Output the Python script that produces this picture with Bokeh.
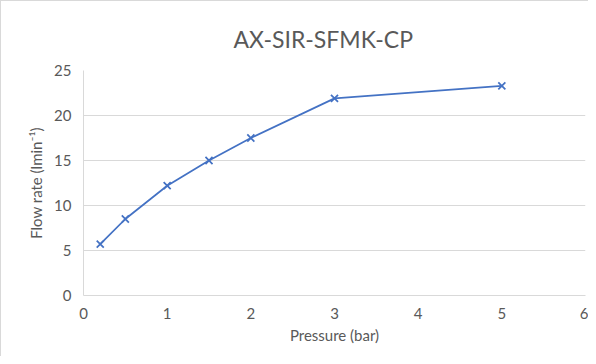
from bokeh.plotting import figure
from bokeh.models import FixedTicker, ColumnDataSource
from bokeh.embed import file_html
from bokeh.resources import INLINE

pressure = [0.2, 0.5, 1.0, 1.5, 2.0, 3.0, 5.0]
flow_rate = [5.7, 8.5, 12.2, 15.0, 17.5, 21.9, 23.3]
x_ticks = [0, 1, 2, 3, 4, 5, 6]
y_ticks = [0, 5, 10, 15, 20, 25]

FONT = "Lato"
GRAY = "#595959"
GRID = "#d9d9d9"
BLUE = "#4472C4"

src = ColumnDataSource(dict(x=pressure, y=flow_rate))

p = figure(width=588, height=356, output_backend="svg", toolbar_location=None,
           x_range=(0, 6), y_range=(0, 25),
           min_border_left=83, min_border_right=3, min_border_top=70, min_border_bottom=61,
           title="AX-SIR-SFMK-CP")
p.styles = {"box-shadow": "inset 1px 1px 0 0 #d9d9d9", "background-color": "white"}
p.border_fill_color = None

p.title.align = "left"
p.title.offset = 150
p.title.text_font = FONT
p.title.text_font_size = "23px"
p.title.text_font_style = "normal"
p.title.text_color = GRAY
p.title.standoff = 36

p.line("x", "y", source=src, line_color=BLUE, line_width=1.75)
p.scatter("x", "y", source=src, marker="x", size=10, line_color=BLUE, line_width=1.75)

p.outline_line_color = None
p.xgrid.grid_line_color = None
p.ygrid.grid_line_color = GRID
p.ygrid.grid_line_width = 1

for ax in (p.xaxis[0], p.yaxis[0]):
    ax.axis_line_color = GRID
    ax.major_tick_line_color = None
    ax.minor_tick_line_color = None
    ax.major_tick_out = 0
    ax.major_tick_in = 0
    ax.major_label_text_font = FONT
    ax.major_label_text_font_size = "15px"
    ax.major_label_text_color = GRAY
    ax.axis_label_text_font = FONT
    ax.axis_label_text_font_size = "15px"
    ax.axis_label_text_font_style = "normal"
    ax.axis_label_text_color = GRAY

p.xaxis[0].ticker = FixedTicker(ticks=x_ticks)
p.yaxis[0].ticker = FixedTicker(ticks=y_ticks)
p.xaxis[0].axis_label = "Pressure (bar)"
p.yaxis[0].axis_label = "Flow rate (lmin\u207b\u00b9)"
p.xaxis[0].major_label_standoff = 12
p.yaxis[0].major_label_standoff = 12
p.xaxis[0].axis_label_standoff = 4
p.yaxis[0].axis_label_standoff = 6

open("out.html", "w").write(file_html(p, INLINE))
